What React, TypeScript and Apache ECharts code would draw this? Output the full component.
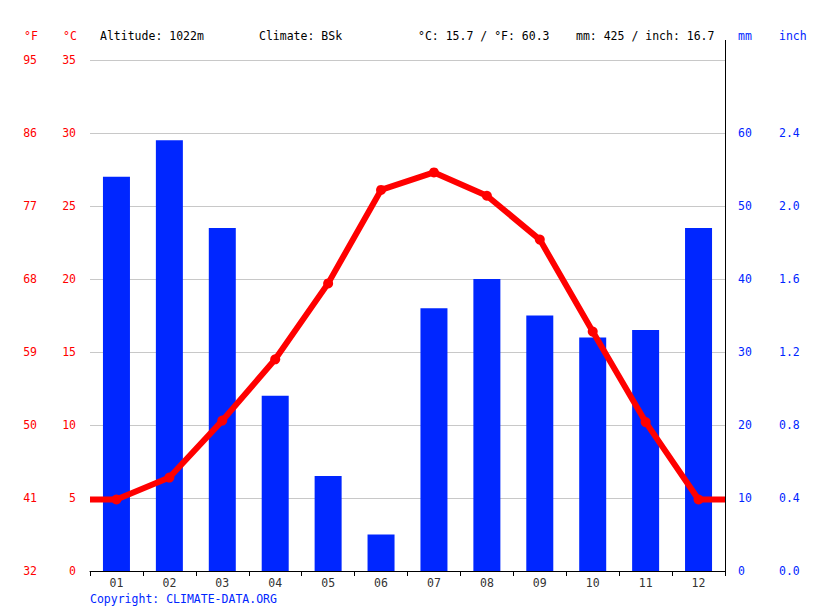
import React, { useEffect, useRef } from "react";
import * as echarts from "echarts";

const months = ["01", "02", "03", "04", "05", "06", "07", "08", "09", "10", "11", "12"];
const precipMm = [54, 59, 47, 24, 13, 5, 36, 40, 35, 32, 33, 47];
const tempC = [4.9, 6.4, 10.3, 14.5, 19.7, 26.1, 27.3, 25.7, 22.7, 16.4, 10.2, 4.9];
const headerTexts = [
  { text: "Altitude: 1022m", x: 100 },
  { text: "Climate: BSk", x: 259 },
  { text: "°C: 15.7 / °F: 60.3", x: 418 },
  { text: "mm: 425 / inch: 16.7", x: 576 },
];
const copyright = "Copyright: CLIMATE-DATA.ORG";

const FONT = "DejaVu Sans Mono";
const RED = "#ff0000";
const BLUE = "#0026ff";

export default function App() {
  const ref = useRef<HTMLDivElement>(null);
  useEffect(() => {
    if (!ref.current) return;
    const chart = echarts.init(ref.current, undefined, { renderer: "svg" });
    const lineData: any[] = [
      { value: [0, tempC[0]], symbol: "none" },
      ...tempC.map((v, i) => [i + 0.5, v]),
      { value: [12, tempC[tempC.length - 1]], symbol: "none" },
    ];
    const labelStyle = { fontFamily: FONT, fontSize: 11.5 };
    chart.setOption({
      animation: false,
      grid: { left: 90, right: 90, top: 60, bottom: 40, containLabel: false },
      xAxis: [
        {
          type: "category",
          data: months,
          axisLine: { lineStyle: { color: "#000", width: 1 } },
          axisTick: { show: true, length: 5, lineStyle: { color: "#000" } },
          axisLabel: { ...labelStyle, color: "#333", margin: 6 },
          splitLine: { show: false },
        },
        { type: "value", min: 0, max: 12, show: false },
      ],
      yAxis: [
        {
          type: "value",
          min: 0,
          max: 35,
          interval: 5,
          position: "left",
          axisLine: { show: false },
          axisTick: { show: false },
          axisLabel: { ...labelStyle, color: RED, margin: 14 },
          splitLine: { show: true, lineStyle: { color: "#c8c8c8", width: 1 } },
        },
        {
          type: "value",
          min: 0,
          max: 35,
          interval: 5,
          position: "left",
          offset: 39,
          axisLine: { show: false },
          axisTick: { show: false },
          axisLabel: {
            ...labelStyle,
            color: RED,
            margin: 14,
            formatter: (v: number) => String(Math.round((v * 9) / 5 + 32)),
          },
          splitLine: { show: false },
        },
        {
          type: "value",
          min: 0,
          max: 70,
          interval: 10,
          position: "right",
          axisLine: { show: false },
          axisTick: { show: false },
          axisLabel: {
            ...labelStyle,
            color: BLUE,
            margin: 13,
            formatter: (v: number) => (v >= 70 ? "" : String(v)),
          },
          splitLine: { show: false },
        },
        {
          type: "value",
          min: 0,
          max: 70,
          interval: 10,
          position: "right",
          offset: 41,
          axisLine: { show: false },
          axisTick: { show: false },
          axisLabel: {
            ...labelStyle,
            color: BLUE,
            margin: 13,
            formatter: (v: number) => (v >= 70 ? "" : (v * 0.04).toFixed(1)),
          },
          splitLine: { show: false },
        },
      ],
      graphic: [
        ...headerTexts.map((h) => ({
          type: "text",
          left: h.x,
          top: 30,
          style: { text: h.text, fill: "#000", font: `11.5px '${FONT}'` },
        })),
        { type: "text", left: 24, top: 30, style: { text: "°F", fill: RED, font: `11.5px '${FONT}'` } },
        { type: "text", left: 63, top: 30, style: { text: "°C", fill: RED, font: `11.5px '${FONT}'` } },
        { type: "text", left: 738, top: 30, style: { text: "mm", fill: BLUE, font: `11.5px '${FONT}'` } },
        { type: "text", left: 779, top: 30, style: { text: "inch", fill: BLUE, font: `11.5px '${FONT}'` } },
        { type: "text", left: 90, top: 593, style: { text: copyright, fill: BLUE, font: `11.5px '${FONT}'` } },
        {
          type: "line",
          shape: { x1: 725.5, y1: 40, x2: 725.5, y2: 571 },
          style: { stroke: "#000", lineWidth: 1 },
          z: 10,
        },
      ],
      series: [
        {
          type: "bar",
          xAxisIndex: 0,
          yAxisIndex: 2,
          data: precipMm,
          barWidth: 27,
          itemStyle: { color: BLUE },
          z: 2,
        },
        {
          type: "line",
          xAxisIndex: 1,
          yAxisIndex: 0,
          data: lineData,
          symbol: "circle",
          symbolSize: 10,
          lineStyle: { color: RED, width: 6 },
          itemStyle: { color: RED },
          z: 5,
        },
      ],
    });
    return () => chart.dispose();
  }, []);
  return (
    <div
      ref={ref}
      style={{ position: "absolute", left: 0, top: 0, width: 815, height: 611 }}
    />
  );
}
